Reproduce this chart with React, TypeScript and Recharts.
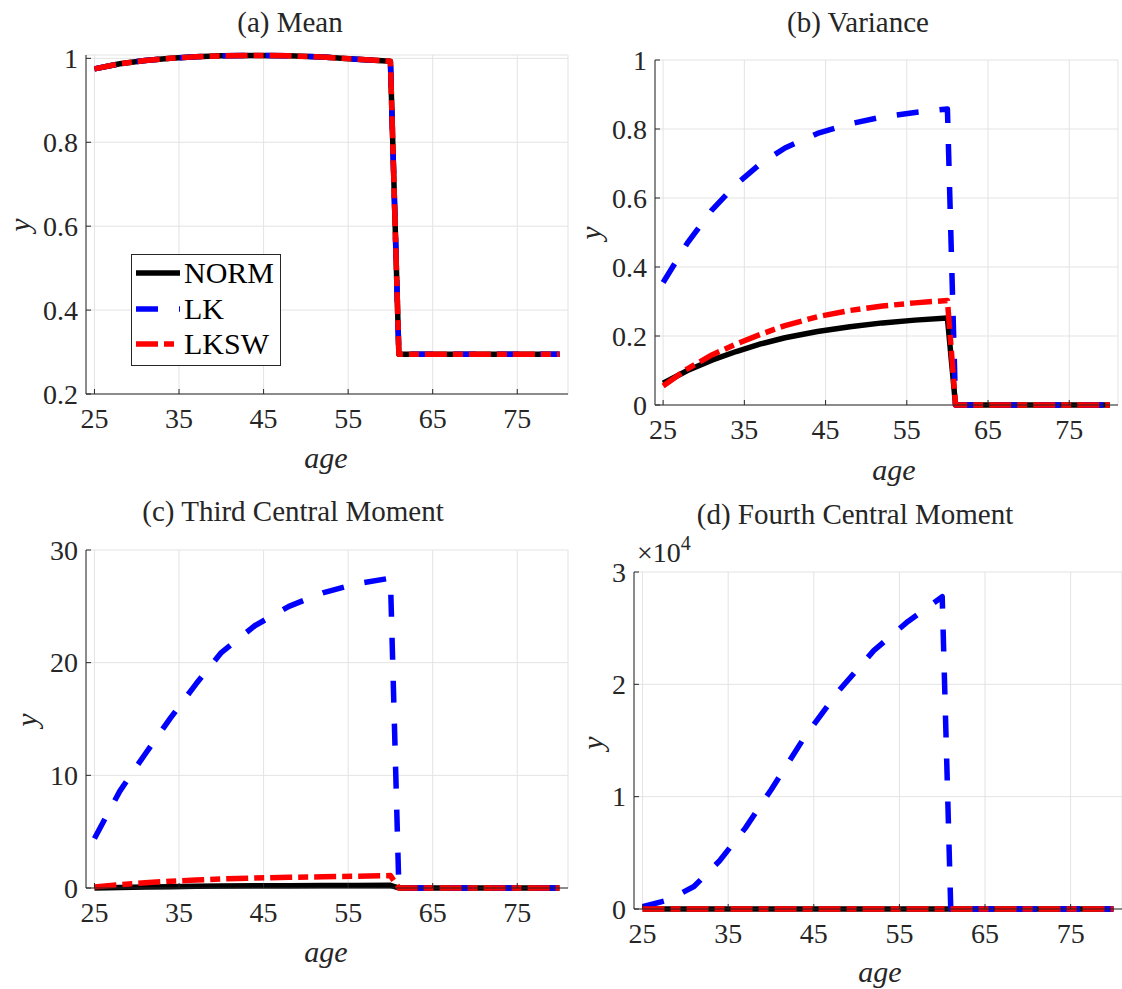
import { LineChart, Line, XAxis, YAxis, CartesianGrid } from 'recharts'

const FONT = '"Liberation Serif", "Times New Roman", serif'
const INK = '#262626'
const GRID = '#e3e3e3'

const ages = [25, 28, 31, 34, 37, 40, 44, 48, 52, 56, 60, 61, 65, 70, 75, 80]
const ageTicks = [25, 35, 45, 55, 65, 75]

// (a) mean
const meanNorm = [0.975, 0.987, 0.995, 1.0, 1.004, 1.006, 1.007, 1.006, 1.003, 0.998, 0.993, 0.295, 0.295, 0.295, 0.295, 0.295]
const meanLk = [0.975, 0.987, 0.995, 1.0, 1.004, 1.006, 1.007, 1.006, 1.003, 0.998, 0.993, 0.295, 0.295, 0.295, 0.295, 0.295]
const meanLksw = [0.975, 0.987, 0.995, 1.0, 1.004, 1.006, 1.007, 1.006, 1.003, 0.998, 0.993, 0.295, 0.295, 0.295, 0.295, 0.295]
const meanTicks = [0.2, 0.4, 0.6, 0.8, 1]

// (b) variance
const varNorm = [0.063, 0.1, 0.13, 0.155, 0.177, 0.195, 0.213, 0.227, 0.238, 0.246, 0.252, 0, 0, 0, 0, 0]
const varLk = [0.355, 0.47, 0.565, 0.64, 0.7, 0.745, 0.787, 0.815, 0.835, 0.848, 0.858, 0, 0, 0, 0, 0]
const varLksw = [0.055, 0.105, 0.145, 0.177, 0.205, 0.23, 0.256, 0.274, 0.287, 0.296, 0.303, 0, 0, 0, 0, 0]
const varTicks = [0, 0.2, 0.4, 0.6, 0.8, 1]

// (c) third central moment
const thirdNorm = [0.0, 0.05, 0.09, 0.12, 0.15, 0.17, 0.19, 0.21, 0.22, 0.23, 0.24, 0, 0, 0, 0, 0]
const thirdLk = [4.4, 8.6, 11.9, 15.1, 18.1, 20.9, 23.3, 25.0, 26.2, 27.0, 27.5, 0, 0, 0, 0, 0]
const thirdLksw = [0.1, 0.3, 0.47, 0.6, 0.7, 0.8, 0.88, 0.95, 1.0, 1.05, 1.1, 0, 0, 0, 0, 0]
const thirdTicks = [0, 10, 20, 30]

// (d) fourth central moment (raw units, axis shown x10^4)
const fourthNorm = [0.012, 0.03, 0.05, 0.07, 0.09, 0.11, 0.14, 0.15, 0.17, 0.18, 0.19, 0, 0, 0, 0, 0]
const fourthLk = [200, 800, 2000, 4300, 7200, 10600, 15400, 19500, 23000, 25600, 27800, 0, 0, 0, 0, 0]
const fourthLksw = [0.01, 0.04, 0.07, 0.1, 0.13, 0.16, 0.19, 0.22, 0.24, 0.26, 0.28, 0, 0, 0, 0, 0]
const fourthTicks = [0, 10000, 20000, 30000]

const series = [
  { key: 'norm', name: 'NORM', color: '#000000', dash: undefined },
  { key: 'lk', name: 'LK', color: '#0000ff', dash: '22 21' },
  { key: 'lksw', name: 'LKSW', color: '#ff0000', dash: '22 6 10 6' },
]

const rows = (norm: number[], lk: number[], lksw: number[]) =>
  ages.map((age, i) => ({ age, norm: norm[i], lk: lk[i], lksw: lksw[i] }))

interface PanelProps {
  left: number
  top: number
  width: number
  height: number
  margin: { top: number; right: number; bottom: number; left: number }
  yAxisWidth: number
  xAxisHeight: number
  data: ReturnType<typeof rows>
  yDomain: [number, number]
  yTicks: number[]
  fmt: (v: number) => string
}

const TICK_SIZE = 28

function XTick({ x, y, payload }: any) {
  return (
    <text x={x} y={y} dy="0.71em" textAnchor="middle" fontFamily={FONT} fontSize={TICK_SIZE} fill={INK}>
      {payload.value}
    </text>
  )
}

function makeYTick(fmt: (v: number) => string) {
  return function YTick({ x, y, payload }: any) {
    return (
      <text x={x} y={y} dy="0.34em" textAnchor="end" fontFamily={FONT} fontSize={TICK_SIZE} fill={INK}>
        {fmt(payload.value)}
      </text>
    )
  }
}

function Panel(p: PanelProps) {
  const YTick = makeYTick(p.fmt)
  return (
    <div style={{ position: 'absolute', left: p.left, top: p.top }}>
      <LineChart width={p.width} height={p.height} data={p.data} margin={p.margin}>
        <CartesianGrid stroke={GRID} strokeWidth={1} />
        <XAxis
          dataKey="age"
          type="number"
          domain={[24, 81]}
          ticks={ageTicks}
          height={p.xAxisHeight}
          tickSize={-5}
          tickMargin={19}
          tick={<XTick />}
          axisLine={{ stroke: INK }}
          tickLine={{ stroke: INK }}
        />
        <YAxis
          type="number"
          domain={p.yDomain}
          ticks={p.yTicks}
          width={p.yAxisWidth}
          tickSize={-5}
          tickMargin={13}
          tick={<YTick />}
          axisLine={{ stroke: INK }}
          tickLine={{ stroke: INK }}
        />
        {series.map((s) => (
          <Line
            key={s.key}
            dataKey={s.key}
            type="linear"
            stroke={s.color}
            strokeWidth={5.5}
            strokeDasharray={s.dash}
            strokeLinejoin="round"
            dot={false}
            activeDot={false}
            isAnimationActive={false}
          />
        ))}
      </LineChart>
    </div>
  )
}

function Txt({ x, y, size, italic, rotate, children }: {
  x: number; y: number; size: number; italic?: boolean; rotate?: boolean; children: React.ReactNode
}) {
  return (
    <div
      style={{
        position: 'absolute', left: x, top: y, fontFamily: FONT, fontSize: size, color: INK,
        fontStyle: italic ? 'italic' : 'normal', lineHeight: 1, whiteSpace: 'nowrap',
        transform: `translate(-50%, -50%)${rotate ? ' rotate(-90deg)' : ''}`,
      }}
    >
      {children}
    </div>
  )
}

function LegendBox() {
  return (
    <div
      style={{
        position: 'absolute', left: 131, top: 254, width: 150, height: 112, boxSizing: 'border-box',
        background: '#fff', border: `1px solid ${INK}`, fontFamily: FONT, fontSize: 30, color: '#000',
      }}
    >
      {series.map((s, i) => (
        <div key={s.key} style={{ position: 'absolute', left: 4, top: 18 + i * 35.5 - 17, height: 34, display: 'flex', alignItems: 'center' }}>
          <svg width={46} height={10}>
            <line x1={0} y1={5} x2={44} y2={5} stroke={s.color} strokeWidth={5.5} strokeDasharray={s.dash} />
          </svg>
          <span style={{ marginLeft: 2, lineHeight: 1 }}>{s.name}</span>
        </div>
      ))}
    </div>
  )
}

const fmt1 = (v: number) => String(v)
const fmt4 = (v: number) => String(v / 10000)

export default function App() {
  return (
    <div style={{ position: 'absolute', left: 0, top: 0, width: 1122, height: 989, background: '#fff', overflow: 'hidden' }}>
      <Panel
        left={0} top={0} width={570} height={480}
        margin={{ top: 55, right: 2, bottom: 0, left: 0 }}
        yAxisWidth={86} xAxisHeight={86}
        data={rows(meanNorm, meanLk, meanLksw)}
        yDomain={[0.2, 1.008]} yTicks={meanTicks} fmt={fmt1}
      />
      <Panel
        left={561} top={0} width={561} height={480}
        margin={{ top: 60, right: 4, bottom: 0, left: 0 }}
        yAxisWidth={94} xAxisHeight={75}
        data={rows(varNorm, varLk, varLksw)}
        yDomain={[0, 1]} yTicks={varTicks} fmt={fmt1}
      />
      <Panel
        left={0} top={490} width={570} height={499}
        margin={{ top: 60, right: 2, bottom: 0, left: 0 }}
        yAxisWidth={86} xAxisHeight={101}
        data={rows(thirdNorm, thirdLk, thirdLksw)}
        yDomain={[0, 30]} yTicks={thirdTicks} fmt={fmt1}
      />
      <Panel
        left={561} top={490} width={561} height={499}
        margin={{ top: 82, right: 0, bottom: 0, left: 0 }}
        yAxisWidth={73} xAxisHeight={80}
        data={rows(fourthNorm, fourthLk, fourthLksw)}
        yDomain={[0, 30000]} yTicks={fourthTicks} fmt={fmt4}
      />

      <Txt x={290} y={22} size={29}>(a) Mean</Txt>
      <Txt x={858} y={22} size={29}>(b) Variance</Txt>
      <Txt x={293} y={511} size={29}>(c) Third Central Moment</Txt>
      <Txt x={855} y={514} size={29}>(d) Fourth Central Moment</Txt>

      <Txt x={326} y={458} size={30} italic>age</Txt>
      <Txt x={894} y={470} size={30} italic>age</Txt>
      <Txt x={326} y={952} size={30} italic>age</Txt>
      <Txt x={880} y={972} size={30} italic>age</Txt>

      <Txt x={20} y={225} size={30} italic rotate>y</Txt>
      <Txt x={591} y={233} size={30} italic rotate>y</Txt>
      <Txt x={27} y={720} size={30} italic rotate>y</Txt>
      <Txt x={593} y={743} size={30} italic rotate>y</Txt>

      <div style={{ position: 'absolute', left: 637, top: 553, transform: 'translateY(-50%)', fontFamily: FONT, fontSize: 28, color: INK, lineHeight: 1 }}>
        ×10<sup style={{ fontSize: 20, verticalAlign: 'top', position: 'relative', top: -6 }}>4</sup>
      </div>

      <LegendBox />
    </div>
  )
}
